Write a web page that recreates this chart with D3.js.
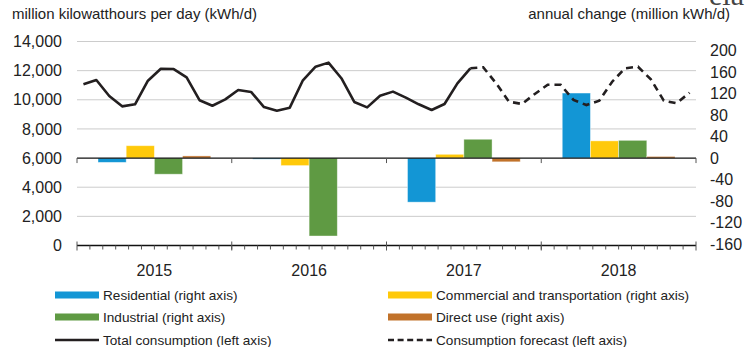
<!DOCTYPE html>
<html>
<head>
<meta charset="utf-8">
<script src="https://cdn.jsdelivr.net/npm/d3@7"></script>
<style>
  html, body { margin: 0; padding: 0; background: #fff; }
  svg { display: block; font-family: "Liberation Sans", Arial, sans-serif; }
</style>
</head>
<body>
<svg id="chart" width="749" height="347"></svg>
<script>
// ---- data ----
const years = ["2015", "2016", "2017", "2018"];
const sectors = ["Residential", "Commercial and transportation", "Industrial", "Direct use"];
const sectorColors = ["#1396d5", "#ffc90a", "#5f9a43", "#c1722a"];

// annual change by sector, million kWh/d (right axis), one array per year
const change2015 = [-8, 23, -30, 4];
const change2016 = [-2, -14, -145, 0];
const change2017 = [-82, 7, 35, -7];
const change2018 = [121, 32, 33, 3];
const annualChange = [change2015, change2016, change2017, change2018];

// monthly total consumption, million kWh/d (left axis), Jan 2015 - Jul 2017
const totalConsumption = [
  11060, 11360, 10260, 9550, 9690, 11310, 12130, 12110, 11540, 9970, 9590, 10030,
  10670, 10540, 9500, 9250, 9460, 11310, 12270, 12550, 11480, 9850, 9480, 10280,
  10560, 10150, 9690, 9300, 9710, 11130, 12160
];
// forecast, Jul 2017 - Dec 2018
const forecastConsumption = [
  12160, 12230, 11130, 9870, 9710, 10400,
  11030, 11030, 9990, 9640, 9940, 11240, 12160, 12270, 11400, 9940, 9760, 10490
];
const forecastStart = 30; // month index where the forecast picks up

const leftTicks = [0, 2000, 4000, 6000, 8000, 10000, 12000, 14000];
const rightTicks = [-160, -120, -80, -40, 0, 40, 80, 120, 160, 200];

// ---- layout ----
const svg = d3.select("#chart");
const plotLeft = 77, plotRight = 696, plotTop = 41.5, plotBottom = 245.5;

const yLeft = d3.scaleLinear().domain([0, 14000]).range([plotBottom, plotTop]);
const zeroY = yLeft(6000);
const yRight = d3.scaleLinear().domain([0, 40]).range([zeroY, zeroY - 21.5]);

const xYear = d3.scaleBand().domain(years).range([plotLeft, plotRight]);
const xSector = d3.scaleBand().domain(sectors).range([0, xYear.bandwidth()])
  .paddingInner(0).paddingOuter(0.745);
const months = d3.range(48);
const xMonth = d3.scaleBand().domain(months).range([plotLeft, plotRight]);
const mx = i => xMonth(i) + xMonth.bandwidth() / 2;

// ---- gridlines ----
svg.append("g").selectAll("line")
  .data(leftTicks.filter(d => d !== 0 && d !== 6000))
  .join("line")
  .attr("x1", plotLeft).attr("x2", plotRight)
  .attr("y1", d => yLeft(d)).attr("y2", d => yLeft(d))
  .attr("stroke", "#cccccc").attr("stroke-width", 1);

// ---- left axis labels ----
const leftAxis = d3.axisLeft(yLeft).tickValues(leftTicks)
  .tickFormat(d3.format(",")).tickSize(0).tickPadding(15);
svg.append("g").attr("transform", `translate(${plotLeft},0)`).call(leftAxis)
  .call(g => g.select(".domain").remove())
  .call(g => g.selectAll("text").attr("font-size", 16).attr("fill", "#222")
    .attr("font-family", "Liberation Sans, Arial, sans-serif"));

// ---- right axis labels ----
const rightAxis = d3.axisRight(yRight).tickValues(rightTicks)
  .tickFormat(d3.format("d")).tickSize(0).tickPadding(14);
svg.append("g").attr("transform", `translate(${plotRight},0)`).call(rightAxis)
  .call(g => g.select(".domain").remove())
  .call(g => g.selectAll("text").attr("font-size", 16).attr("fill", "#222")
    .attr("font-family", "Liberation Sans, Arial, sans-serif")
    .text(d => d < 0 ? "-" + Math.abs(d) : d));

// ---- bars ----
const barGroups = svg.append("g").selectAll("g")
  .data(years)
  .join("g")
  .attr("transform", d => `translate(${xYear(d)},0)`);
barGroups.selectAll("rect")
  .data((d, i) => annualChange[i].map((v, j) => ({ sector: sectors[j], value: v, color: sectorColors[j] })))
  .join("rect")
  .attr("x", d => xSector(d.sector))
  .attr("width", xSector.bandwidth())
  .attr("y", d => Math.min(yRight(d.value), yRight(0)))
  .attr("height", d => Math.abs(yRight(d.value) - yRight(0)))
  .attr("fill", d => d.color)
  .attr("stroke", "#ffffff").attr("stroke-opacity", 0.5).attr("stroke-width", 0.8);

// ---- zero line and bottom axis ----
svg.append("line").attr("x1", plotLeft).attr("x2", plotRight)
  .attr("y1", zeroY).attr("y2", zeroY).attr("stroke", "#111").attr("stroke-width", 1.3);
const yearEdges = years.map(y => xYear(y)).concat([plotRight]);
svg.append("g").selectAll("line").data(yearEdges).join("line")
  .attr("x1", d => d).attr("x2", d => d)
  .attr("y1", zeroY).attr("y2", zeroY + 5)
  .attr("stroke", "#555").attr("stroke-width", 1);

svg.append("line").attr("x1", plotLeft).attr("x2", plotRight)
  .attr("y1", plotBottom).attr("y2", plotBottom).attr("stroke", "#111").attr("stroke-width", 1.3);
svg.append("g").selectAll("line").data(months.slice(1)).join("line")
  .attr("x1", d => xMonth(d)).attr("x2", d => xMonth(d))
  .attr("y1", plotBottom).attr("y2", plotBottom + 4)
  .attr("stroke", "#555").attr("stroke-width", 1);
svg.append("g").selectAll("line").data(yearEdges).join("line")
  .attr("x1", d => d).attr("x2", d => d)
  .attr("y1", plotBottom - 4).attr("y2", plotBottom + 5)
  .attr("stroke", "#555").attr("stroke-width", 1);

// year labels
svg.append("g").selectAll("text").data(years).join("text")
  .attr("x", d => xYear(d) + xYear.bandwidth() / 2)
  .attr("y", 276)
  .attr("text-anchor", "middle")
  .attr("font-size", 16).attr("fill", "#222")
  .text(d => d);

// ---- consumption lines ----
const line = d3.line().x(d => mx(d.i)).y(d => yLeft(d.v)).curve(d3.curveLinear);
svg.append("path")
  .datum(totalConsumption.map((v, i) => ({ i, v })))
  .attr("d", line).attr("fill", "none")
  .attr("stroke", "#231f20").attr("stroke-width", 2.6).attr("stroke-linejoin", "round");
svg.append("path")
  .datum(forecastConsumption.map((v, k) => ({ i: forecastStart + k, v })))
  .attr("d", line).attr("fill", "none")
  .attr("stroke", "#231f20").attr("stroke-width", 2.6)
  .attr("stroke-dasharray", "7,5");

// ---- axis titles ----
svg.append("text").attr("x", 12).attr("y", 19).attr("font-size", 15).attr("fill", "#222")
  .text("million kilowatthours per day (kWh/d)");
svg.append("text").attr("x", 730).attr("y", 19).attr("text-anchor", "end")
  .attr("font-size", 15).attr("fill", "#222")
  .text("annual change (million kWh/d)");
svg.append("text").attr("x", 744).attr("y", 5).attr("text-anchor", "end")
  .attr("font-size", 30).attr("font-family", "Liberation Serif, serif")
  .attr("fill", "#444").text("eia");

// ---- legend ----
const legendItems = [
  { label: "Residential (right axis)", type: "bar", color: sectorColors[0], col: 0, row: 0 },
  { label: "Commercial and transportation (right axis)", type: "bar", color: sectorColors[1], col: 1, row: 0 },
  { label: "Industrial (right axis)", type: "bar", color: sectorColors[2], col: 0, row: 1 },
  { label: "Direct use (right axis)", type: "bar", color: sectorColors[3], col: 1, row: 1 },
  { label: "Total consumption (left axis)", type: "line", col: 0, row: 2 },
  { label: "Consumption forecast (left axis)", type: "dash", col: 1, row: 2 }
];
const colX = [55, 388], rowY = [295, 317, 340];
const lg = svg.append("g").selectAll("g").data(legendItems).join("g")
  .attr("transform", d => `translate(${colX[d.col]},${rowY[d.row]})`);
lg.filter(d => d.type === "bar").append("rect")
  .attr("x", 0).attr("y", -3.5).attr("width", 44).attr("height", 7)
  .attr("fill", d => d.color);
lg.filter(d => d.type !== "bar").append("line")
  .attr("x1", 0).attr("x2", 44).attr("y1", 0).attr("y2", 0)
  .attr("stroke", "#231f20").attr("stroke-width", 2.4)
  .attr("stroke-dasharray", d => d.type === "dash" ? "6,3.6" : null);
lg.append("text").attr("x", 48).attr("y", 5)
  .attr("font-size", 13.6).attr("fill", "#222")
  .text(d => d.label);
</script>
</body>
</html>
